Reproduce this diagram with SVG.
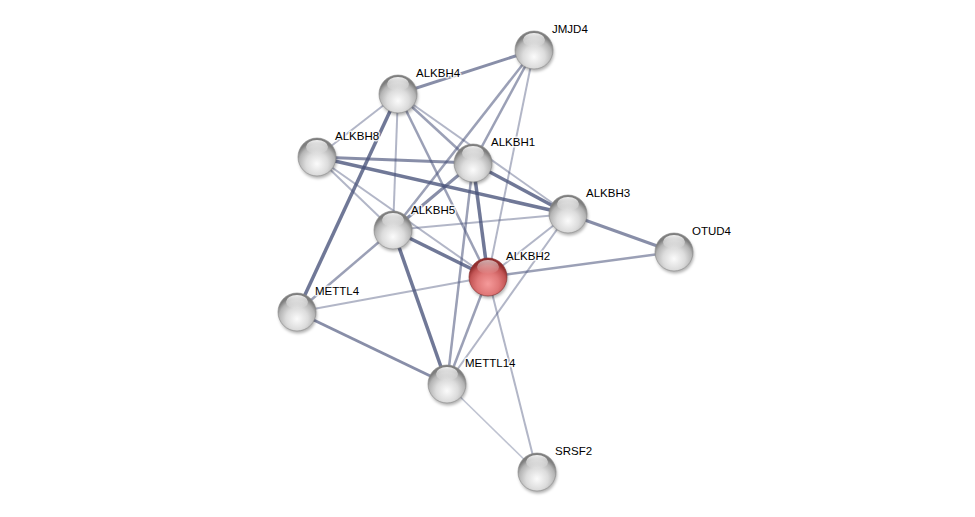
<svg xmlns="http://www.w3.org/2000/svg" xmlns:xlink="http://www.w3.org/1999/xlink" width="975" height="517" viewBox="0 0 975 517">
<style>
.e{stroke:#48527a;fill:none;stroke-linecap:butt}
.w1{stroke-width:1.5;stroke-opacity:0.35}
.w2{stroke-width:2;stroke-opacity:0.42}
.w3{stroke-width:2.5;stroke-opacity:0.55}
.w4{stroke-width:3;stroke-opacity:0.65}
.w5{stroke-width:3.5;stroke-opacity:0.78}
.lbl{font-family:"Liberation Sans",Arial,sans-serif;font-size:11.5px;fill:#000;stroke:#fff;stroke-width:3;stroke-opacity:0.8;paint-order:stroke;stroke-linejoin:round}
</style>
<defs>
<radialGradient id="gg" cx="50%" cy="68%" r="58%">
<stop offset="0" stop-color="#fbfbfb"/>
<stop offset="0.5" stop-color="#dcdcdc"/>
<stop offset="0.82" stop-color="#b4b4b4"/>
<stop offset="1" stop-color="#7e7e7e"/>
</radialGradient>
<radialGradient id="gr" cx="50%" cy="68%" r="58%">
<stop offset="0" stop-color="#f59a9a"/>
<stop offset="0.5" stop-color="#e07878"/>
<stop offset="0.82" stop-color="#c25454"/>
<stop offset="1" stop-color="#922e2e"/>
</radialGradient>
<linearGradient id="hl" x1="0" y1="0" x2="0" y2="1">
<stop offset="0" stop-color="#ffffff" stop-opacity="0.9"/>
<stop offset="1" stop-color="#ffffff" stop-opacity="0"/>
</linearGradient>
<filter id="sh" x="-50%" y="-50%" width="200%" height="200%">
<feGaussianBlur stdDeviation="1.5"/>
</filter>
<g id="sg">
<circle cx="1" cy="2.5" r="19" fill="#000" fill-opacity="0.3" filter="url(#sh)"/>
<circle r="19" fill="url(#gg)" stroke="#8a8a8a" stroke-width="0.6"/>
<ellipse cx="0" cy="-10" rx="11" ry="7" fill="url(#hl)"/>
</g>
<g id="sr">
<circle cx="1" cy="2.5" r="19" fill="#000" fill-opacity="0.3" filter="url(#sh)"/>
<circle r="19" fill="url(#gr)" stroke="#842a2a" stroke-width="0.6"/>
<ellipse cx="0" cy="-10" rx="11" ry="7" fill="url(#hl)" opacity="0.7"/>
</g>
</defs>
<rect width="975" height="517" fill="#ffffff"/>
<g id="connectors">
<line class="e w4" x1="534" y1="50" x2="398" y2="94"/>
<line class="e w3" x1="534" y1="50" x2="393" y2="230"/>
<line class="e w3" x1="534" y1="50" x2="473" y2="163"/>
<line class="e w2" x1="534" y1="50" x2="488" y2="277"/>
<line class="e w2" x1="398" y1="94" x2="317" y2="157"/>
<line class="e w5" x1="398" y1="94" x2="297" y2="312"/>
<line class="e w2" x1="398" y1="94" x2="393" y2="230"/>
<line class="e w3" x1="398" y1="94" x2="488" y2="277"/>
<line class="e w3" x1="398" y1="94" x2="473" y2="163"/>
<line class="e w2" x1="398" y1="94" x2="568" y2="214"/>
<line class="e w4" x1="317" y1="157" x2="473" y2="163"/>
<line class="e w5" x1="317" y1="157" x2="568" y2="214"/>
<line class="e w2" x1="317" y1="157" x2="393" y2="230"/>
<line class="e w2" x1="317" y1="157" x2="488" y2="277"/>
<line class="e w5" x1="473" y1="163" x2="568" y2="214"/>
<line class="e w4" x1="473" y1="163" x2="393" y2="230"/>
<line class="e w5" x1="473" y1="163" x2="488" y2="277"/>
<line class="e w3" x1="473" y1="163" x2="447" y2="384"/>
<line class="e w2" x1="568" y1="214" x2="393" y2="230"/>
<line class="e w4" x1="568" y1="214" x2="674" y2="252"/>
<line class="e w2" x1="568" y1="214" x2="488" y2="277"/>
<line class="e w2" x1="568" y1="214" x2="447" y2="384"/>
<line class="e w5" x1="393" y1="230" x2="488" y2="277"/>
<line class="e w5" x1="393" y1="230" x2="447" y2="384"/>
<line class="e w3" x1="393" y1="230" x2="297" y2="312"/>
<line class="e w3" x1="488" y1="277" x2="674" y2="252"/>
<line class="e w2" x1="488" y1="277" x2="297" y2="312"/>
<line class="e w3" x1="488" y1="277" x2="447" y2="384"/>
<line class="e w2" x1="488" y1="277" x2="537" y2="472"/>
<line class="e w4" x1="297" y1="312" x2="447" y2="384"/>
<line class="e w1" x1="447" y1="384" x2="537" y2="472"/>
</g>
<g id="n-JMJD4"><use xlink:href="#sg" href="#sg" x="534" y="50"/><text class="lbl" x="552" y="33">JMJD4</text></g>
<g id="n-ALKBH4"><use xlink:href="#sg" href="#sg" x="398" y="94"/><text class="lbl" x="416" y="77">ALKBH4</text></g>
<g id="n-ALKBH8"><use xlink:href="#sg" href="#sg" x="317" y="157"/><text class="lbl" x="335" y="140">ALKBH8</text></g>
<g id="n-ALKBH1"><use xlink:href="#sg" href="#sg" x="473" y="163"/><text class="lbl" x="491" y="146">ALKBH1</text></g>
<g id="n-ALKBH3"><use xlink:href="#sg" href="#sg" x="568" y="214"/><text class="lbl" x="586" y="197">ALKBH3</text></g>
<g id="n-OTUD4"><use xlink:href="#sg" href="#sg" x="674" y="252"/><text class="lbl" x="692" y="235">OTUD4</text></g>
<g id="n-ALKBH5"><use xlink:href="#sg" href="#sg" x="393" y="230"/><text class="lbl" x="411" y="214">ALKBH5</text></g>
<g id="n-ALKBH2"><use xlink:href="#sr" href="#sr" x="488" y="277"/><text class="lbl" x="506" y="260">ALKBH2</text></g>
<g id="n-METTL4"><use xlink:href="#sg" href="#sg" x="297" y="312"/><text class="lbl" x="315" y="295">METTL4</text></g>
<g id="n-METTL14"><use xlink:href="#sg" href="#sg" x="447" y="384"/><text class="lbl" x="465" y="367">METTL14</text></g>
<g id="n-SRSF2"><use xlink:href="#sg" href="#sg" x="537" y="472"/><text class="lbl" x="555" y="455">SRSF2</text></g>
</svg>
